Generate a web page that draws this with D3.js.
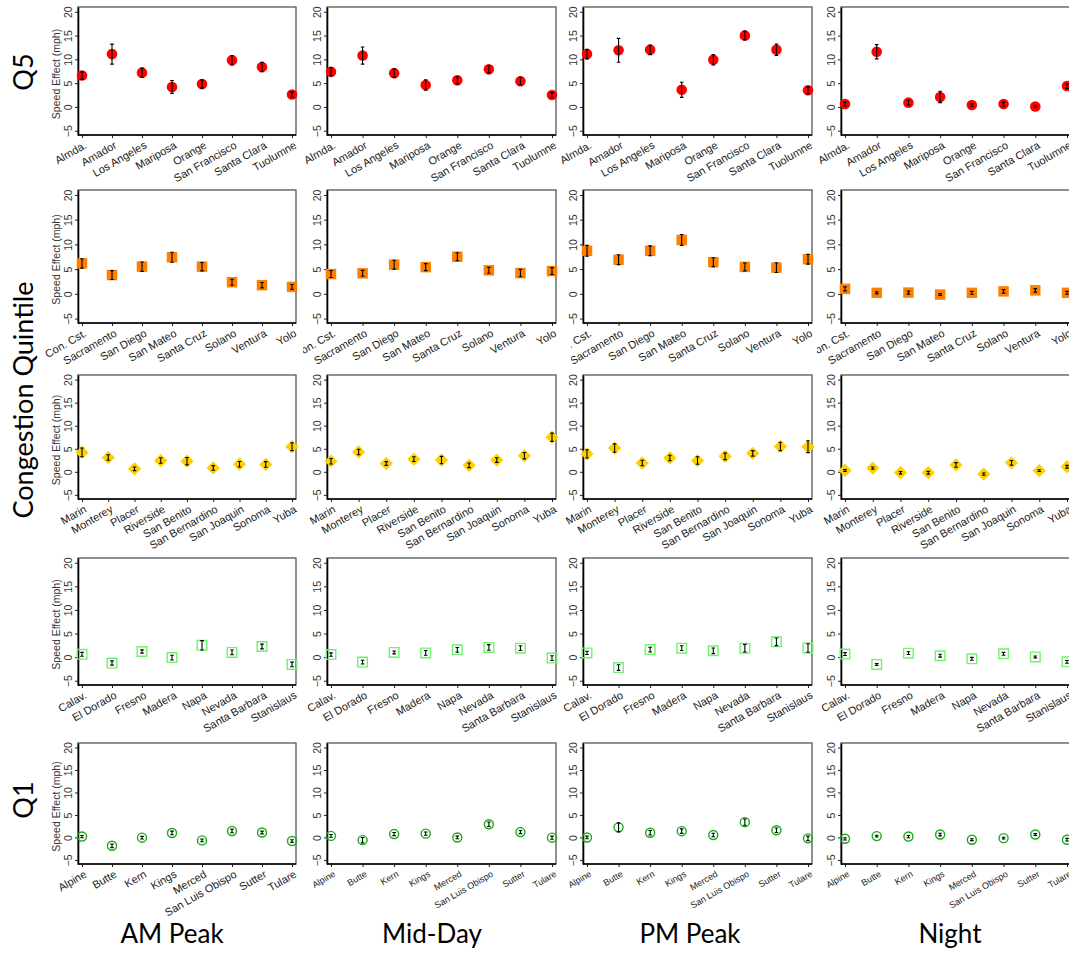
<!DOCTYPE html>
<html>
<head>
<meta charset="utf-8">
<script src="https://cdn.jsdelivr.net/npm/d3@7"></script>
<style>
  body { margin: 0; background: #fff; }
  svg { display: block; }
</style>
</head>
<body>
<div id="vis"></div>
<script>
// column and row headings
let periods = ["AM Peak", "Mid-Day", "PM Peak", "Night"]
let quintileLabels = ["Q5", "Congestion Quintile", "Q1"]
let yTicks = [-5, 0, 5, 10, 15, 20]
let yTitle = "Speed Effect (mph)"

// Q5 (top row), one array per period
let q5Counties = ["Almda.", "Amador", "Los Angeles", "Mariposa", "Orange", "San Francisco", "Santa Clara", "Tuolumne"]
let q5Mean = [
  [6.6, 11.1, 7.2, 4.2, 4.8, 9.8, 8.4, 2.6],
  [7.4, 10.8, 7.1, 4.6, 5.6, 7.9, 5.4, 2.5],
  [11.1, 11.9, 12.0, 3.6, 9.9, 15.0, 12.0, 3.5],
  [0.6, 11.6, 0.9, 2.1, 0.4, 0.6, 0.1, 4.4]
]
let q5Err = [
  [0.75, 2.1, 0.95, 1.35, 0.85, 1.0, 1.0, 0.5],
  [0.9, 1.8, 0.85, 1.1, 0.75, 0.75, 0.8, 0.5],
  [1.0, 2.5, 1.0, 1.6, 1.1, 0.95, 1.2, 0.75],
  [0.4, 1.5, 0.5, 1.2, 0.3, 0.4, 0.2, 0.5]
]

// Q4
let q4Counties = ["Con. Cst.", "Sacramento", "San Diego", "San Mateo", "Santa Cruz", "Solano", "Ventura", "Yolo"]
let q4Mean = [
  [6.15, 3.8, 5.5, 7.4, 5.5, 2.35, 1.75, 1.4],
  [4.0, 4.15, 5.9, 5.4, 7.5, 4.75, 4.2, 4.6],
  [8.7, 6.9, 8.7, 10.9, 6.4, 5.45, 5.3, 7.0],
  [1.0, 0.2, 0.25, -0.15, 0.2, 0.5, 0.7, 0.2]
]
let q4Err = [
  [0.95, 0.9, 0.95, 1.0, 0.85, 0.6, 0.55, 0.5],
  [0.7, 0.6, 0.9, 0.7, 0.8, 0.6, 0.75, 0.7],
  [1.1, 1.0, 1.0, 1.1, 0.9, 0.8, 1.0, 1.0],
  [0.4, 0.2, 0.3, 0.2, 0.3, 0.35, 0.35, 0.3]
]

// Q3
let q3Counties = ["Marin", "Monterey", "Placer", "Riverside", "San Benito", "San Bernardino", "San Joaquin", "Sonoma", "Yuba"]
let q3Mean = [
  [4.2, 3.1, 0.65, 2.45, 2.3, 0.85, 1.65, 1.6, 5.45],
  [2.3, 4.3, 1.8, 2.75, 2.55, 1.4, 2.55, 3.5, 7.5],
  [3.9, 5.15, 1.9, 3.0, 2.45, 3.35, 4.0, 5.5, 5.45],
  [0.3, 0.8, -0.2, -0.2, 1.5, -0.5, 1.95, 0.25, 1.1]
]
let q3Err = [
  [0.95, 0.6, 0.4, 0.6, 0.8, 0.5, 0.6, 0.6, 0.85],
  [0.6, 0.6, 0.4, 0.5, 0.8, 0.5, 0.5, 0.7, 0.9],
  [0.9, 0.9, 0.6, 0.6, 0.8, 0.7, 0.6, 0.9, 1.3],
  [0.2, 0.25, 0.25, 0.3, 0.5, 0.25, 0.5, 0.2, 0.3]
]

// Q2
let q2Counties = ["Calav.", "El Dorado", "Fresno", "Madera", "Napa", "Nevada", "Santa Barbara", "Stanislaus"]
let q2Mean = [
  [0.6, -1.25, 1.2, -0.1, 2.5, 1.0, 2.25, -1.55],
  [0.55, -1.05, 1.0, 0.9, 1.55, 2.05, 1.9, -0.2],
  [0.9, -2.2, 1.6, 1.9, 1.35, 1.9, 3.25, 1.95],
  [0.65, -1.55, 0.85, 0.3, -0.35, 0.7, 0.05, -1.0]
]
let q2Err = [
  [0.4, 0.45, 0.35, 0.5, 1.0, 0.5, 0.5, 0.5],
  [0.35, 0.4, 0.3, 0.5, 0.5, 0.6, 0.5, 0.5],
  [0.35, 0.6, 0.5, 0.5, 0.6, 0.8, 0.8, 0.9],
  [0.3, 0.2, 0.3, 0.3, 0.3, 0.3, 0.2, 0.3]
]

// Q1 (bottom row)
let q1Counties = ["Alpine", "Butte", "Kern", "Kings", "Merced", "San Luis Obispo", "Sutter", "Tulare"]
let q1Mean = [
  [0.2, -1.85, -0.05, 1.0, -0.65, 1.45, 1.1, -0.8],
  [0.35, -0.6, 0.75, 0.85, 0.0, 2.95, 1.2, -0.05],
  [0.0, 2.25, 1.05, 1.4, 0.55, 3.4, 1.6, -0.2],
  [-0.3, 0.3, 0.2, 0.65, -0.5, -0.15, 0.65, -0.5]
]
let q1Err = [
  [0.25, 0.4, 0.3, 0.4, 0.3, 0.4, 0.3, 0.3],
  [0.3, 0.6, 0.35, 0.35, 0.3, 0.5, 0.35, 0.35],
  [0.3, 1.0, 0.5, 0.5, 0.4, 0.7, 0.5, 0.5],
  [0.25, 0.2, 0.25, 0.3, 0.2, 0.2, 0.2, 0.3]
]

let rows = [
  {counties: q5Counties, mean: q5Mean, err: q5Err},
  {counties: q4Counties, mean: q4Mean, err: q4Err},
  {counties: q3Counties, mean: q3Mean, err: q3Err},
  {counties: q2Counties, mean: q2Mean, err: q2Err},
  {counties: q1Counties, mean: q1Mean, err: q1Err}
]

// marker look per row
let markers = [
  {type: d3.symbolCircle, size: 88, fill: "#ff0000", stroke: "none", rot: 0},
  {type: d3.symbolSquare, size: 110, fill: "#ff8000", stroke: "none", rot: 0},
  {type: d3.symbolSquare, size: 88, fill: "#ffd000", stroke: "none", rot: 45},
  {type: d3.symbolSquare, size: 92, fill: "none", stroke: "#6cf56c", rot: 0},
  {type: d3.symbolCircle, size: 64, fill: "none", stroke: "#14ad14", rot: 0}
]

// layout
let colLeft = [78, 327, 583, 841]
let colRight = [296, 556, 812, 1071]
let rowTop = [7, 190, 375, 558, 743]
let rowBottom = [135, 323, 499, 685, 864]
let labelClip = [null, [null, 303, 571, 817], null, null, null]
let yDomain = [-5.9, 21]
let sansFont = "'Liberation Sans', Arial, sans-serif"

let svg = d3.select("#vis").append("svg")
    .attr("width", 1069)
    .attr("height", 954)
    .attr("font-family", sansFont)

let defs = svg.append("defs")

rows.forEach((row, r) => {
  periods.forEach((period, c) => {
    let x = d3.scalePoint()
        .domain(row.counties)
        .range([colLeft[c] + 4, colRight[c] - 4])
    let y = d3.scaleLinear()
        .domain(yDomain)
        .range([rowBottom[r], rowTop[r]])

    let g = svg.append("g")

    // frame
    g.append("rect")
        .attr("x", colLeft[c])
        .attr("y", rowTop[r])
        .attr("width", colRight[c] - colLeft[c])
        .attr("height", rowBottom[r] - rowTop[r])
        .attr("fill", "none")
        .attr("stroke", "#555")
        .attr("stroke-width", 1.3)

    // y axis
    let ya = g.append("g")
        .attr("transform", `translate(${colLeft[c]},0)`)
        .attr("font-family", sansFont)
        .call(d3.axisLeft(y).tickValues(yTicks).tickSize(3).tickSizeOuter(0))
    ya.select(".domain").attr("stroke-width", 1.6)
    ya.selectAll(".tick line").attr("stroke", "#222")
    ya.selectAll("text")
        .attr("transform", "rotate(-90)")
        .attr("x", 0)
        .attr("y", -6)
        .attr("dy", 0)
        .attr("text-anchor", "middle")
        .attr("font-size", 10.5)
        .attr("fill", "#333")

    // x axis
    let clipId = null
    if (labelClip[r] && labelClip[r][c] != null) {
      clipId = `clip-${r}-${c}`
      defs.append("clipPath").attr("id", clipId)
        .append("rect")
          .attr("x", labelClip[r][c])
          .attr("y", -5)
          .attr("width", colRight[c] - labelClip[r][c] + 30)
          .attr("height", 80)
    }
    let xa = g.append("g")
        .attr("transform", `translate(0,${rowBottom[r]})`)
        .attr("font-family", sansFont)
        .call(d3.axisBottom(x).tickSize(3).tickSizeOuter(0))
    if (clipId) xa.attr("clip-path", `url(#${clipId})`)
    xa.select(".domain").remove()
    xa.selectAll(".tick line").attr("stroke", "#222")
    xa.selectAll("text")
        .attr("transform", "translate(3,9) rotate(-30)")
        .attr("x", 0)
        .attr("y", 0)
        .attr("dy", "0.35em")
        .attr("text-anchor", "end")
        .attr("font-size", (r === 4 && c > 0) ? 9 : 11)
        .attr("fill", "#222")

    g.append("line")
        .attr("x1", colLeft[c])
        .attr("x2", colRight[c])
        .attr("y1", rowBottom[r])
        .attr("y2", rowBottom[r])
        .attr("stroke", "#000")
        .attr("stroke-width", 1.6)

    if (c === 0) {
      g.append("text")
          .attr("transform", `translate(60,${(rowTop[r] + rowBottom[r]) / 2 + 3}) rotate(-90)`)
          .attr("text-anchor", "middle")
          .attr("font-size", 10.5)
          .attr("fill", "#333")
          .text(yTitle)
    }

    let pts = row.counties.map((k, i) => ({k: k, m: row.mean[c][i], e: row.err[c][i]}))
    let mk = markers[r]

    g.append("g")
      .selectAll("path")
      .data(pts)
      .join("path")
        .attr("transform", d => `translate(${x(d.k)},${y(d.m)}) rotate(${mk.rot})`)
        .attr("d", d3.symbol().type(mk.type).size(mk.size))
        .attr("fill", mk.fill)
        .attr("stroke", mk.stroke)
        .attr("stroke-width", 1.4)

    g.append("g")
      .selectAll("path")
      .data(pts)
      .join("path")
        .attr("d", d => {
          let cx = x(d.k), hi = y(d.m + d.e), lo = y(d.m - d.e)
          return `M ${cx - 1.8} ${hi} H ${cx + 1.8} M ${cx} ${hi} V ${lo} M ${cx - 1.8} ${lo} H ${cx + 1.8}`
        })
        .attr("fill", "none")
        .attr("stroke", "#000")
        .attr("stroke-width", 1.1)
  })
})

// row headings
let quintileY = [72, 400, 800]
svg.selectAll(".quintile")
  .data(quintileLabels)
  .join("text")
    .attr("class", "quintile")
    .attr("transform", (d, i) => `translate(33,${quintileY[i]}) rotate(-90)`)
    .attr("text-anchor", "middle")
    .attr("font-family", "Lato, 'Open Sans', sans-serif")
    .attr("font-size", 27)
    .attr("fill", "#000")
    .text(d => d)

// column headings
let periodX = [172, 432, 690, 950]
svg.selectAll(".period")
  .data(periods)
  .join("text")
    .attr("class", "period")
    .attr("x", (d, i) => periodX[i])
    .attr("y", 943)
    .attr("text-anchor", "middle")
    .attr("font-family", "Lato, 'Open Sans', sans-serif")
    .attr("font-size", 26)
    .attr("fill", "#000")
    .text(d => d)
</script>
</body>
</html>
